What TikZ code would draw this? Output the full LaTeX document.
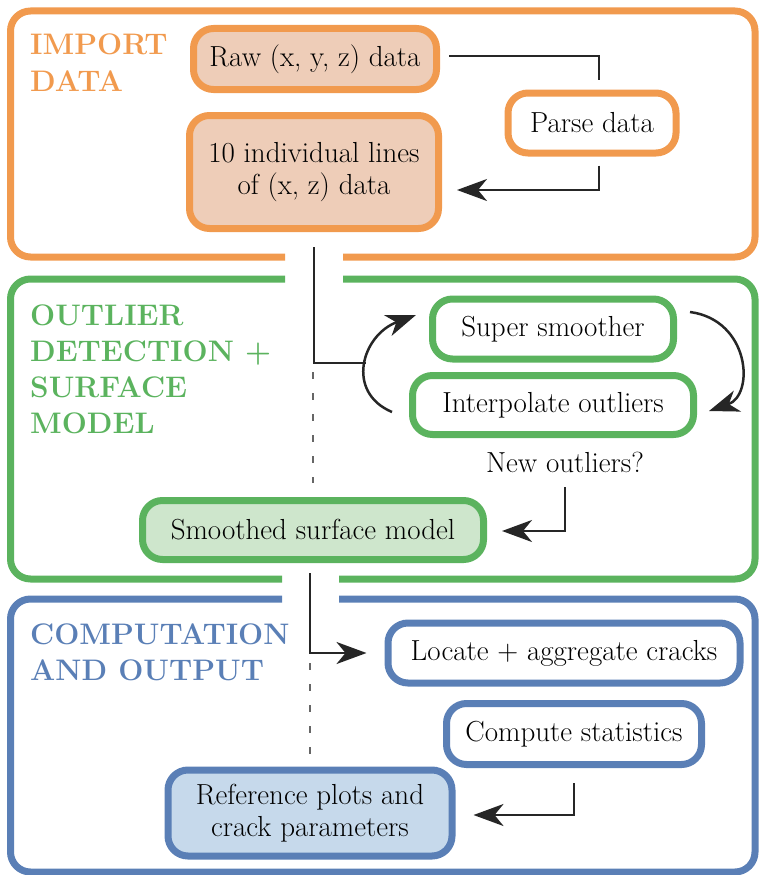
\documentclass[tikz,border=0pt]{standalone}
\usetikzlibrary{arrows.meta}
\definecolor{orng}{HTML}{F19A4E}
\definecolor{orngfill}{HTML}{EECDB8}
\definecolor{grn}{HTML}{5BB35E}
\definecolor{grnfill}{HTML}{CEE6CC}
\definecolor{blu}{HTML}{5A7FB6}
\definecolor{blufill}{HTML}{C6D9EB}
\newcommand{\bodyfont}{\fontsize{29}{32}\selectfont}
\newcommand{\headfont}{\fontsize{29.7}{36}\selectfont\bfseries}
\begin{document}
\begin{tikzpicture}[x=1pt,y=-1pt,
  box/.style={draw, line width=7pt, rounded corners=20pt, align=center, font=\bodyfont, inner sep=0pt},
  panel/.style={line width=7pt, rounded corners=20pt},
  head/.style={anchor=base west, align=left, inner sep=0pt, font=\headfont},
  conn/.style={line width=2.5pt, black!85},
  arr/.style={conn, -{Stealth[length=30pt,width=22pt,inset=9pt]}},
  dashline/.style={line width=1.3pt, black!60, dash pattern=on 7pt off 14pt}]
\useasboundingbox (0,0) rectangle (759,875);
% panels
\draw[panel, orng] (343,257) -- (755,257) -- (755,11) -- (10.5,11) -- (10.5,257) -- (285,257);
\draw[panel, grn] (285,279) -- (10.5,279) -- (10.5,579) -- (282,579);
\draw[panel, grn] (343,279) -- (755,279) -- (755,579) -- (339,579);
\draw[panel, blu] (282,599) -- (10.5,599) -- (10.5,872) -- (755,872) -- (755,599) -- (339,599);
% headings (anchor is the baseline of the last line)
\node[head, text=orng] (h1) at (30,91) {IMPORT\\DATA};
\node[head, text=grn] (h2) at (30,433) {OUTLIER\\DETECTION +\\SURFACE\\MODEL};
\node[head, text=blu] (h3) at (30,680) {COMPUTATION\\AND OUTPUT};
% nodes
\node[box, draw=orng, fill=orngfill, minimum width=243pt, minimum height=61pt] (raw) at (315,59) {Raw (x, y, z) data};
\node[box, draw=orng, fill=orngfill, minimum width=249pt, minimum height=113pt] (lines) at (314,172) {10 individual lines\\of (x, z) data};
\node[box, draw=orng, fill=white, minimum width=168pt, minimum height=60pt] (parse) at (592,123) {Parse data};
\node[box, draw=grn, fill=white, minimum width=241pt, minimum height=60pt] (super) at (553,329) {Super smoother};
\node[box, draw=grn, fill=white, minimum width=281pt, minimum height=59pt] (interp) at (553,405) {Interpolate outliers};
\node[font=\bodyfont, inner sep=0pt] (newq) at (565,462) {New outliers?};
\node[box, draw=grn, fill=grnfill, minimum width=341pt, minimum height=59pt] (smooth) at (313,530) {Smoothed surface model};
\node[box, draw=blu, fill=white, minimum width=352pt, minimum height=60pt] (locate) at (564,653) {Locate + aggregate cracks};
\node[box, draw=blu, fill=white, minimum width=255pt, minimum height=61pt] (compute) at (574,734) {Compute statistics};
\node[box, draw=blu, fill=blufill, minimum width=284pt, minimum height=86pt] (ref) at (310,813) {Reference plots and\\crack parameters};
% coordinates
\coordinate (loopjoin) at (366,363);
\coordinate (d1a) at (313,372);
\coordinate (d1b) at (313,483);
\coordinate (d2a) at (310,663);
\coordinate (d2b) at (310,760);
% connectors
\draw[conn] ([xshift=9pt,yshift=3pt]raw.east) -| ([xshift=7pt,yshift=10pt]parse.north);
\draw[arr] ([xshift=7pt,yshift=-9pt]parse.south) |- ([xshift=15pt,yshift=-18pt]lines.east);
\draw[conn] ([yshift=-15pt]lines.south) |- (loopjoin);
\draw[dashline] (d1a) -- (d1b);
\draw[arr] ([xshift=-17pt,yshift=-7pt]interp.west) .. controls (345,392) and (362,335) .. ([xshift=-13pt,yshift=14pt]super.west);
\draw[arr] ([xshift=13pt,yshift=17pt]super.east) .. controls (750,320) and (755,395) .. ([xshift=12pt,yshift=-6pt]interp.east);
\draw[arr] ([yshift=-14.5pt]newq.south) |- ([xshift=15pt,yshift=-1pt]smooth.east);
\draw[arr] ([xshift=-3pt,yshift=-10pt]smooth.south) |- ([xshift=-18pt]locate.west);
\draw[dashline] (d2a) -- (d2b);
\draw[arr] ([yshift=-15pt]compute.south) |- ([xshift=18pt,yshift=-2pt]ref.east);
\end{tikzpicture}
\end{document}
